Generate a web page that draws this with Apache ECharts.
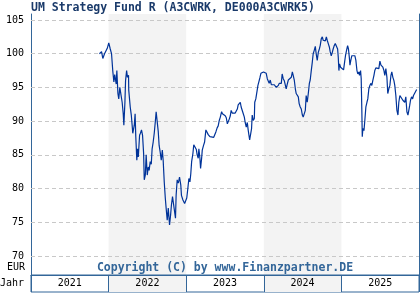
<!DOCTYPE html>
<html>
<head>
<meta charset="utf-8">
<script src="https://cdn.jsdelivr.net/npm/echarts@6/dist/echarts.min.js"></script>
<style>html,body{margin:0;padding:0;background:#fff}#c{width:420px;height:300px}</style>
</head>
<body>
<div id="c"></div>
<script>
const titleText = 'UM Strategy Fund R (A3CWRK, DE000A3CWRK5)';
const copyrightText = 'Copyright (C) by www.Finanzpartner.DE';
const years = ['2021', '2022', '2023', '2024', '2025'];
const yMin = 70, yMax = 105, yStep = 5;

const dates = [
'2021-11-19','2021-11-29','2021-12-05','2021-12-13','2021-12-18','2021-12-26',
'2022-01-02','2022-01-09','2022-01-15','2022-01-21','2022-01-26','2022-01-30','2022-02-06','2022-02-09','2022-02-14','2022-02-18','2022-02-23',
'2022-03-02','2022-03-06','2022-03-11','2022-03-14','2022-03-19','2022-03-22','2022-03-27','2022-03-31','2022-04-05','2022-04-06','2022-04-13',
'2022-04-18','2022-04-22','2022-04-25','2022-05-02','2022-05-06','2022-05-09','2022-05-14','2022-05-17','2022-05-21','2022-05-27','2022-05-31',
'2022-06-05','2022-06-10','2022-06-15','2022-06-18','2022-06-23','2022-06-27','2022-07-02','2022-07-07','2022-07-11','2022-07-16','2022-07-21',
'2022-07-25','2022-07-30','2022-08-04','2022-08-09','2022-08-13','2022-08-18','2022-08-23','2022-08-27','2022-09-01','2022-09-06','2022-09-11',
'2022-09-15','2022-09-20','2022-09-25','2022-09-29','2022-10-04','2022-10-09','2022-10-15','2022-10-20','2022-10-24','2022-10-29','2022-11-03',
'2022-11-07','2022-11-12','2022-11-15','2022-11-20','2022-11-25','2022-11-28','2022-12-01','2022-12-07','2022-12-10','2022-12-17','2022-12-25','2022-12-31',
'2023-01-04','2023-01-09','2023-01-14','2023-01-19','2023-01-23','2023-01-27','2023-02-02','2023-02-06','2023-02-11','2023-02-18','2023-02-22','2023-02-27',
'2023-03-02','2023-03-07','2023-03-10','2023-03-15','2023-03-18','2023-03-24','2023-03-29','2023-04-04','2023-04-09','2023-04-15','2023-04-23',
'2023-05-01','2023-05-11','2023-05-16','2023-05-21','2023-05-27','2023-06-01','2023-06-06','2023-06-11','2023-06-17','2023-06-21','2023-06-28',
'2023-07-04','2023-07-09','2023-07-14','2023-07-18','2023-07-23','2023-07-28','2023-08-01','2023-08-06','2023-08-11','2023-08-15','2023-08-20',
'2023-08-25','2023-08-30','2023-09-03','2023-09-08','2023-09-13','2023-09-17','2023-09-22','2023-09-27','2023-10-02','2023-10-06','2023-10-11',
'2023-10-16','2023-10-20','2023-10-27','2023-10-31','2023-11-05','2023-11-08','2023-11-13','2023-11-18','2023-11-20','2023-11-25','2023-11-30',
'2023-12-05','2023-12-09','2023-12-14','2023-12-19','2023-12-25','2023-12-31',
'2024-01-07','2024-01-13','2024-01-18','2024-01-23','2024-01-27','2024-02-01','2024-02-06','2024-02-10','2024-02-15','2024-02-20','2024-02-24',
'2024-02-29','2024-03-05','2024-03-10','2024-03-14','2024-03-19','2024-03-24','2024-03-28','2024-04-02','2024-04-07','2024-04-12','2024-04-16',
'2024-04-21','2024-04-26','2024-04-30','2024-05-05','2024-05-10','2024-05-15','2024-05-19','2024-05-24','2024-05-29','2024-06-02','2024-06-07',
'2024-06-12','2024-06-16','2024-06-21','2024-06-26','2024-07-01','2024-07-05','2024-07-10','2024-07-15','2024-07-19','2024-07-24','2024-07-29',
'2024-08-03','2024-08-07','2024-08-12','2024-08-17','2024-08-21','2024-08-26','2024-08-31','2024-09-04','2024-09-09','2024-09-14','2024-09-19',
'2024-09-23','2024-09-28','2024-10-03','2024-10-07','2024-10-12','2024-10-17','2024-10-22','2024-10-26','2024-10-31','2024-11-05','2024-11-09',
'2024-11-14','2024-11-19','2024-11-23','2024-11-28','2024-12-03','2024-12-08','2024-12-14','2024-12-17','2024-12-20','2024-12-23','2024-12-28',
'2025-01-02','2025-01-06','2025-01-11','2025-01-16','2025-01-20','2025-01-25','2025-01-30','2025-02-03','2025-02-07','2025-02-10','2025-02-14',
'2025-02-19','2025-02-24','2025-02-28','2025-03-05','2025-03-10','2025-03-15','2025-03-19','2025-03-24','2025-03-27','2025-04-01','2025-04-04',
'2025-04-07','2025-04-09','2025-04-12','2025-04-17','2025-04-21','2025-04-26','2025-05-01','2025-05-05','2025-05-10','2025-05-15','2025-05-19',
'2025-05-24','2025-05-29','2025-06-03','2025-06-07','2025-06-12','2025-06-17','2025-06-21','2025-06-26','2025-07-01','2025-07-06','2025-07-10',
'2025-07-15','2025-07-20','2025-07-24','2025-07-29','2025-08-03','2025-08-07','2025-08-12','2025-08-17','2025-08-22','2025-08-26','2025-08-31',
'2025-09-05','2025-09-09','2025-09-14','2025-09-19','2025-09-24','2025-09-28','2025-10-03','2025-10-08','2025-10-12','2025-10-17','2025-10-22',
'2025-10-26','2025-10-31','2025-11-05','2025-11-10','2025-11-14','2025-11-18','2025-11-22','2025-11-27','2025-12-02','2025-12-06','2025-12-11',
'2025-12-16','2025-12-21'
];

const prices = [
100.0,100.3,99.3,100.0,99.8,100.8,
101.6,100.7,100.0,97.4,95.8,96.9,95.5,97.5,94.1,93.3,95.0,
95.0,92.8,91.1,89.4,92.8,96.0,97.5,96.5,96.8,94.6,92.1,
90.9,89.4,88.2,89.4,91.1,87.8,84.2,85.9,84.7,87.9,88.2,
88.7,87.9,85.2,81.3,82.0,85.0,82.0,83.2,82.7,84.0,83.6,
85.9,86.9,88.2,89.9,91.4,89.9,88.4,86.4,85.4,84.2,85.7,
84.2,81.0,78.6,77.1,75.3,77.1,74.6,76.1,77.6,78.8,78.6,
78.8,75.6,79.0,81.3,80.8,81.2,81.7,80.5,79.0,78.3,77.8,77.8,
78.6,80.0,81.5,81.0,82.2,84.0,85.2,86.5,86.4,85.8,85.0,84.5,
85.9,84.5,83.0,84.5,85.7,86.4,86.9,88.7,88.4,88.0,87.7,
87.6,87.6,87.7,88.4,89.0,89.3,90.1,90.6,91.4,91.1,90.9,
90.8,90.5,89.6,89.5,90.3,90.8,91.6,91.2,91.4,91.1,91.2,
91.4,91.8,92.4,92.6,92.8,92.1,92.3,91.1,90.6,89.8,89.1,
89.8,88.7,87.2,87.2,88.9,90.9,90.1,90.4,92.8,93.3,94.3,
95.3,95.8,96.4,97.1,97.3,97.3,
97.2,97.1,96.3,96.5,95.6,96.1,95.4,95.6,95.2,95.4,95.5,
95.0,94.8,95.3,95.6,95.8,95.6,97.0,96.3,96.0,95.8,94.8,
95.5,96.1,96.3,96.0,96.5,97.3,96.8,96.1,94.8,94.1,94.3,
93.6,92.6,92.1,91.8,90.9,90.6,90.4,91.6,93.8,92.8,94.1,
95.6,96.1,97.5,98.8,100.0,100.5,101.1,100.0,99.0,100.2,100.7,
101.2,102.2,102.5,102.0,102.2,101.9,102.5,102.0,101.5,101.0,100.3,
99.7,100.2,100.7,101.2,101.5,101.3,100.7,99.5,97.5,98.5,98.0,
98.2,97.8,97.6,98.8,99.7,100.5,101.2,100.7,99.5,98.3,99.0,
99.7,99.9,99.5,99.7,99.0,97.5,97.0,97.3,96.8,97.5,96.3,
91.6,87.7,88.9,88.6,90.1,92.1,92.8,93.3,94.8,95.3,95.6,
95.3,96.1,96.8,97.5,97.9,97.8,98.0,97.8,98.9,98.3,98.5,
98.0,97.5,96.8,97.8,96.5,94.1,94.8,95.3,96.8,97.3,96.5,
96.0,95.3,93.8,91.6,90.9,92.8,93.8,93.6,93.8,93.1,93.3,
92.8,93.6,91.4,90.9,91.1,92.3,93.1,93.6,93.3,93.8,94.1,
94.3,94.7
];

const frameColor = '#336699';
const shadeColors = ['rgba(255,255,255,0)', '#f3f3f3'];
const monoFont = 'DejaVu Sans Mono';

const chart = echarts.init(document.getElementById('c'), null, {renderer: 'canvas'});
chart.setOption({
  animation: false,
  backgroundColor: '#ffffff',
  title: {
    text: titleText, left: 31, top: 2, padding: 0,
    textStyle: {fontFamily: monoFont, fontWeight: 'bold', fontSize: 11.5, color: '#1a3a6a'}
  },
  grid: [
    {left: 31, right: 1, top: 20, bottom: 44, outerBoundsMode: 'none', containLabel: false},
    {left: 31, right: 1, top: 14, bottom: 25, outerBoundsMode: 'none', containLabel: false},
    {left: 31, right: 1, top: 275, bottom: 8, outerBoundsMode: 'none', containLabel: false,
     show: true, borderColor: frameColor, borderWidth: 1, backgroundColor: 'transparent'}
  ],
  xAxis: [
    {type: 'time', gridIndex: 0, min: '2021-01-01', max: '2026-01-01', show: false},
    {type: 'category', gridIndex: 1, data: years, boundaryGap: true, z: -1,
     axisLine: {show: false}, axisTick: {show: false}, axisLabel: {show: false},
     splitLine: {show: false},
     splitArea: {show: true, areaStyle: {color: shadeColors}}},
    {type: 'category', gridIndex: 2, data: years, boundaryGap: true, position: 'top',
     axisLine: {show: true, lineStyle: {color: frameColor}}, axisTick: {show: false},
     axisLabel: {inside: true, margin: 3, fontSize: 10, fontFamily: monoFont, color: '#000'},
     splitLine: {show: true, lineStyle: {color: frameColor}},
     splitArea: {show: true, areaStyle: {color: shadeColors}}}
  ],
  yAxis: [
    {type: 'value', gridIndex: 0, min: yMin, max: yMax, interval: yStep, z: 1,
     axisLine: {show: false}, axisTick: {show: false},
     axisLabel: {margin: 7, fontSize: 10, fontFamily: monoFont, color: '#000'},
     splitLine: {show: true, lineStyle: {color: '#c8c8c8', type: [4, 3], width: 1}}},
    {type: 'value', gridIndex: 1, min: 0, max: 1, position: 'left',
     axisLine: {show: true, lineStyle: {color: frameColor}}, axisTick: {show: false},
     axisLabel: {show: false}, splitLine: {show: false}},
    {type: 'value', gridIndex: 1, min: 0, max: 1, position: 'right',
     axisLine: {show: true, lineStyle: {color: frameColor}}, axisTick: {show: false},
     axisLabel: {show: false}, splitLine: {show: false}},
    {type: 'category', gridIndex: 2, data: ['Jahr'],
     axisLine: {show: false}, axisTick: {show: false},
     axisLabel: {margin: 7, fontSize: 10, fontFamily: monoFont, color: '#000'}}
  ],
  series: [{
    type: 'line', xAxisIndex: 0, yAxisIndex: 0,
    data: dates.map((d, i) => [d, prices[i]]),
    showSymbol: false, symbol: 'none',
    lineStyle: {color: '#003399', width: 1.2},
    z: 3
  }],
  graphic: [
    {type: 'text', right: 395, top: 262,
     style: {text: 'EUR', fontFamily: monoFont, fontSize: 10, fill: '#000', textAlign: 'right'}},
    {type: 'text', x: 225, y: 262,
     style: {text: copyrightText, fontFamily: monoFont, fontWeight: 'bold', fontSize: 11.5, fill: frameColor, textAlign: 'center'}}
  ]
});
</script>
</body>
</html>
